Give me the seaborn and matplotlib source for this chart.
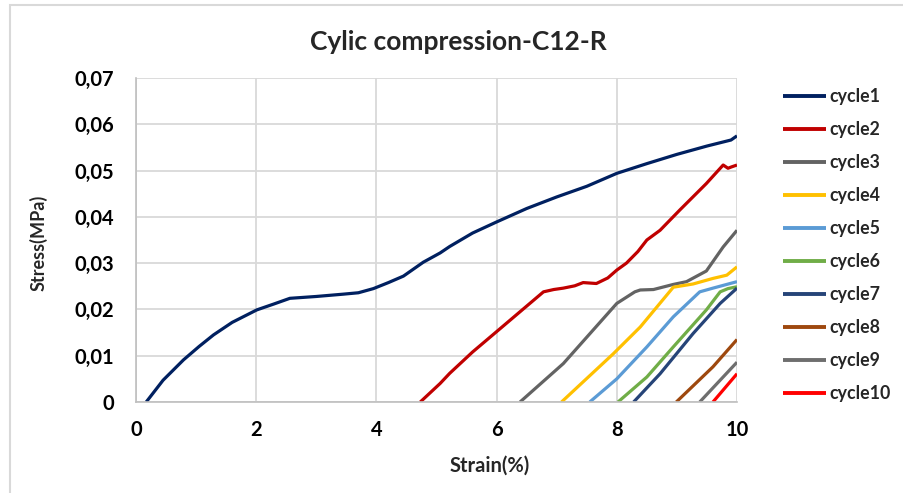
import matplotlib
matplotlib.use("Agg")
import matplotlib.pyplot as plt
from matplotlib.patches import Rectangle
from matplotlib.ticker import FuncFormatter, MultipleLocator
import numpy as np
import pandas as pd
import seaborn as sns

# Stress-strain curves per loading cycle (strain in %, stress in MPa)
cycle1_strain = [0.17, 0.45, 0.79, 1.05, 1.29, 1.6, 2.01, 2.3, 2.56, 3.0, 3.45, 3.7, 3.95,
                 4.2, 4.45, 4.78, 5.06, 5.22, 5.6, 6.0, 6.5, 7.0, 7.5, 8.0, 8.5,
                 9.0, 9.5, 9.9, 10.0]
cycle1_stress = [0, 0.0047, 0.0091, 0.0120, 0.0145, 0.0172, 0.0199, 0.0212, 0.0224, 0.0228,
                 0.0233, 0.0236, 0.0245, 0.0258, 0.0272, 0.0302, 0.0322, 0.0336,
                 0.0365, 0.0389, 0.0418, 0.0443, 0.0466, 0.0494, 0.0515, 0.0535,
                 0.0553, 0.0566, 0.0575]

cycle2_strain = [4.73, 5.06, 5.22, 5.6, 6.0, 6.39, 6.78, 6.95, 7.11, 7.3, 7.44, 7.66,
                 7.85, 8.0, 8.16, 8.35, 8.5, 8.72, 9.05, 9.49, 9.77, 9.85, 9.91, 10.0]
cycle2_stress = [0, 0.0040, 0.0062, 0.0108, 0.0152, 0.0195, 0.0238, 0.0243, 0.0246,
                 0.0251, 0.0258, 0.0256, 0.0268, 0.0285, 0.0300, 0.0325, 0.0350,
                 0.0371, 0.0415, 0.0472, 0.0512, 0.0505, 0.0508, 0.0512]

cycle3_strain = [6.39, 7.11, 8.0, 8.3, 8.39, 8.61, 8.94, 9.16, 9.49, 9.77, 10.0]
cycle3_stress = [0, 0.0083, 0.0213, 0.0238, 0.0242, 0.0243, 0.0254, 0.0260, 0.0283,
                 0.0335, 0.0371]

cycle4_strain = [7.08, 7.94, 8.39, 8.94, 9.27, 9.6, 9.83, 10.0]
cycle4_stress = [0, 0.0104, 0.0162, 0.0248, 0.0255, 0.0267, 0.0274, 0.0292]

cycle5_strain = [7.55, 8.0, 8.5, 8.94, 9.38, 9.6, 10.0]
cycle5_stress = [0, 0.0050, 0.0119, 0.0184, 0.0238, 0.0246, 0.0260]

cycle6_strain = [8.02, 8.5, 8.94, 9.49, 9.72, 9.85, 10.0]
cycle6_stress = [0, 0.0054, 0.0119, 0.0199, 0.0238, 0.0245, 0.0249]

cycle7_strain = [8.28, 8.72, 9.27, 9.72, 10.0]
cycle7_stress = [0, 0.0061, 0.0148, 0.0213, 0.0246]

cycle8_strain = [8.99, 9.6, 10.0]
cycle8_stress = [0, 0.0076, 0.0135]

cycle9_strain = [9.38, 10.0]
cycle9_stress = [0, 0.0086]

cycle10_strain = [9.6, 10.0]
cycle10_stress = [0, 0.0061]

cycle_names = ["cycle1", "cycle2", "cycle3", "cycle4", "cycle5",
               "cycle6", "cycle7", "cycle8", "cycle9", "cycle10"]
cycle_colors = ["#002060", "#C00000", "#636363", "#FFC000", "#5B9BD5",
                "#70AD47", "#264478", "#9E480E", "#6E6E6E", "#FF0000"]

strains = [cycle1_strain, cycle2_strain, cycle3_strain, cycle4_strain, cycle5_strain,
           cycle6_strain, cycle7_strain, cycle8_strain, cycle9_strain, cycle10_strain]
stresses = [cycle1_stress, cycle2_stress, cycle3_stress, cycle4_stress, cycle5_stress,
            cycle6_stress, cycle7_stress, cycle8_stress, cycle9_stress, cycle10_stress]

frames = []
for name, xs, ys in zip(cycle_names, strains, stresses):
    frames.append(pd.DataFrame({"cycle": name, "strain": xs, "stress": ys}))
df = pd.concat(frames, ignore_index=True)

sns.set_theme(style="white")
plt.rcParams["font.family"] = ["Lato", "DejaVu Sans"]

W, H = 904, 493
fig = plt.figure(figsize=(W / 100, H / 100), dpi=100)
ax = fig.add_axes([136 / W, 1 - 402 / H, (737 - 136) / W, (402 - 78) / H])

sns.lineplot(data=df, x="strain", y="stress", hue="cycle", hue_order=cycle_names,
             palette=cycle_colors, sort=False, estimator=None, linewidth=2.3,
             ax=ax, legend=True)
for line in ax.get_lines():
    line.set_solid_joinstyle("round")
    line.set_solid_capstyle("butt")

ax.set_xlim(0, 10)
ax.set_ylim(0, 0.07)
ax.xaxis.set_major_locator(MultipleLocator(2))
ax.yaxis.set_major_locator(MultipleLocator(0.01))
ax.yaxis.set_major_formatter(FuncFormatter(
    lambda v, _: "0" if abs(v) < 1e-9 else f"{v:.2f}".replace(".", ",")))
ax.grid(True, color="#D9D9D9", linewidth=1.3)
ax.set_axisbelow(True)
for side in ["top", "right"]:
    ax.spines[side].set_visible(False)
for side in ["left", "bottom"]:
    ax.spines[side].set_color("#BFBFBF")
    ax.spines[side].set_linewidth(1.2)
ax.tick_params(axis="both", length=0, labelsize=14.5, colors="#000000")
ax.tick_params(axis="y", pad=16)
ax.tick_params(axis="x", pad=13)
for lab in ax.get_xticklabels() + ax.get_yticklabels():
    lab.set_fontweight("bold")
ax.set_xlabel("")
ax.set_ylabel("")

fig.text(490 / W, 1 - 466 / H, "Strain(%)", ha="center", va="center",
         fontsize=14.5, fontweight="bold")
fig.text(38 / W, 1 - 243 / H, "Stress(MPa)", ha="center", va="center",
         rotation=90, fontsize=13, fontweight="bold")
fig.text(458 / W, 1 - 42 / H, "Cylic compression-C12-R", ha="center", va="center",
         fontsize=19, fontweight="bold")

leg = ax.legend(loc="upper left", bbox_to_anchor=(783 / W, 1 - 88 / H),
                bbox_transform=fig.transFigure, frameon=False, fontsize=12.8,
                handlelength=2.4, handletextpad=0.2, labelspacing=0.9,
                borderaxespad=0, borderpad=0)
for t in leg.get_texts():
    t.set_fontweight("bold")
for h in leg.get_lines():
    h.set_linewidth(2.8)

# chart-area frame
fig.patches.append(Rectangle((10 / W, -0.05), 1.2, 1 - 5 / H + 0.05,
                             transform=fig.transFigure, fill=False,
                             edgecolor="#D9D9D9", linewidth=1.5))

fig.savefig("out.png", dpi=100)
